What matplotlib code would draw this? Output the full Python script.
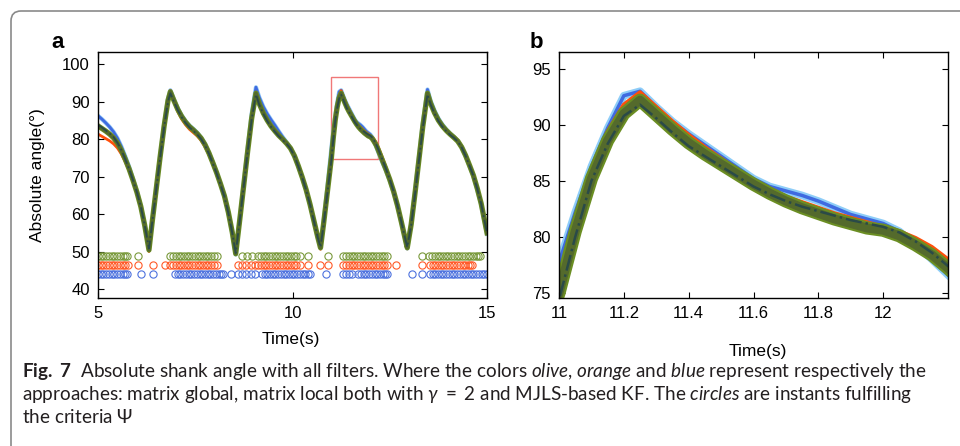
import numpy as np
import matplotlib.pyplot as plt
from matplotlib import font_manager
from matplotlib.patches import FancyBboxPatch, Rectangle
from matplotlib.transforms import IdentityTransform

# time base (s) shared by all filter outputs
t = [5.0, 5.1, 5.2, 5.3, 5.4, 5.5, 5.6, 5.7, 5.8, 5.9, 6.0, 6.1, 6.2, 6.31,
     6.4, 6.5, 6.6, 6.7, 6.8, 6.86,
     6.95, 7.05, 7.15, 7.25, 7.35, 7.45, 7.55, 7.65, 7.75, 7.85, 7.95, 8.05, 8.15, 8.25, 8.35, 8.45, 8.54,
     8.65, 8.75, 8.85, 8.95, 9.06,
     9.15, 9.25, 9.35, 9.45, 9.55, 9.65, 9.75, 9.85, 9.95, 10.05, 10.15, 10.25, 10.35, 10.45, 10.55, 10.65, 10.72,
     10.8, 10.9,
     11.0, 11.05, 11.1, 11.15, 11.2, 11.25, 11.3, 11.35, 11.4, 11.45, 11.5, 11.55, 11.6,
     11.65, 11.7, 11.75, 11.8, 11.85, 11.9, 11.95, 12.0, 12.05, 12.1, 12.15, 12.2,
     12.3, 12.4, 12.5, 12.6, 12.7, 12.8, 12.9, 12.95,
     13.05, 13.15, 13.25, 13.35, 13.47,
     13.55, 13.65, 13.75, 13.85, 13.95, 14.05, 14.15, 14.25, 14.35, 14.45, 14.55, 14.65, 14.75, 14.85, 14.95, 15.0]

# matrix global (olive)
olive = [83.5, 82.8, 82.1, 81.3, 80.3, 78.9, 77.0, 74.6, 72.0, 69.0, 65.8, 62.0, 57.0, 50.4,
         58.5, 67.0, 75.5, 83.5, 90.3, 92.6,
         90.3, 87.9, 86.0, 84.5, 83.3, 82.4, 81.4, 80.2, 78.5, 76.3, 73.7, 71.0, 68.0, 64.8, 60.5, 55.2, 49.4,
         59.0, 68.0, 77.0, 85.5, 92.2,
         89.3, 86.9, 85.0, 83.4, 82.1, 80.9, 79.9, 78.8, 77.5, 75.5, 72.8, 69.8, 66.5, 62.6, 58.2, 53.8, 51.0,
         57.5, 66.2,
         75.0, 80.5, 85.2, 88.6, 91.0, 92.2, 90.9, 89.6, 88.4, 87.4, 86.5, 85.6, 84.7,
         83.9, 83.2, 82.6, 82.1, 81.6, 81.2, 80.8, 80.6, 80.1, 79.3, 78.4, 77.2,
         74.6, 72.0, 69.2, 66.0, 62.2, 57.8, 53.2, 51.0,
         57.2, 65.6, 74.5, 83.4, 92.2,
         89.5, 87.0, 85.0, 83.5, 82.3, 81.3, 80.4, 79.4, 77.8, 75.6, 73.0, 70.3, 66.8, 62.8, 57.6, 55.0]

# matrix local (orange)
orange = [81.3, 80.7, 80.1, 79.5, 78.7, 77.6, 76.0, 73.9, 71.5, 68.7, 65.6, 61.9, 57.0, 50.0,
          58.3, 66.8, 75.3, 83.4, 90.5, 92.9,
          90.0, 87.3, 85.3, 83.8, 82.6, 81.7, 80.8, 79.6, 77.9, 75.8, 73.3, 70.7, 67.8, 64.7, 60.5, 55.3, 49.6,
          59.2, 68.2, 77.2, 85.8, 92.5,
          89.5, 87.1, 85.2, 83.6, 82.3, 81.1, 80.1, 79.0, 77.6, 75.6, 72.9, 69.9, 66.6, 62.7, 58.2, 53.6, 50.6,
          57.6, 66.6,
          76.3, 81.4, 86.0, 89.4, 91.8, 92.9, 91.6, 90.3, 89.1, 88.0, 87.0, 86.0, 85.1,
          84.3, 83.6, 83.1, 82.6, 82.1, 81.7, 81.3, 80.9, 80.5, 79.9, 79.1, 78.0,
          75.4, 72.6, 69.6, 66.3, 62.4, 57.9, 53.1, 50.7,
          57.3, 65.8, 74.8, 83.8, 92.5,
          89.7, 87.2, 85.2, 83.7, 82.5, 81.5, 80.7, 79.7, 78.1, 75.9, 73.3, 70.5, 67.0, 62.9, 57.7, 55.1]

# MJLS-based KF (blue)
blue = [86.2, 85.3, 84.3, 83.2, 81.9, 80.2, 78.0, 75.4, 72.6, 69.4, 66.0, 62.1, 57.0, 50.6,
        58.7, 67.2, 75.8, 83.9, 90.8, 93.0,
        90.6, 88.2, 86.3, 84.8, 83.6, 82.7, 81.7, 80.4, 78.7, 76.4, 73.8, 71.0, 68.0, 64.8, 60.4, 55.0, 49.2,
        59.3, 68.5, 77.8, 86.8, 93.8,
        91.0, 88.6, 86.7, 85.1, 83.6, 82.0, 80.5, 79.1, 77.6, 75.5, 72.7, 69.7, 66.4, 62.5, 58.1, 53.7, 50.9,
        58.0, 67.5,
        77.7, 82.2, 86.3, 89.7, 92.6, 93.0, 91.6, 90.3, 89.2, 88.2, 87.2, 86.2, 85.2,
        84.5, 84.1, 83.7, 83.2, 82.6, 82.0, 81.6, 81.2, 80.5, 79.3, 78.0, 76.6,
        74.0, 71.6, 68.9, 65.8, 62.1, 57.7, 53.1, 50.8,
        57.4, 66.0, 75.2, 84.3, 93.2,
        90.2, 87.6, 85.5, 83.9, 82.6, 81.5, 80.6, 79.5, 77.8, 75.5, 72.8, 70.1, 66.5, 62.5, 57.3, 54.7]

# reference (dark dash-dot)
ref = [83.8, 83.1, 82.3, 81.5, 80.5, 79.0, 77.1, 74.6, 72.0, 69.0, 65.8, 62.0, 57.0, 50.8,
       58.3, 66.8, 75.2, 83.2, 90.0, 92.2,
       90.0, 87.7, 85.8, 84.3, 83.1, 82.2, 81.2, 80.0, 78.3, 76.1, 73.5, 70.8, 67.8, 64.6, 60.3, 55.0, 49.6,
       58.8, 67.8, 76.8, 85.2, 91.9,
       89.0, 86.7, 84.8, 83.2, 81.9, 80.7, 79.7, 78.7, 77.4, 75.4, 72.7, 69.7, 66.4, 62.5, 58.1, 53.7, 51.2,
       57.2, 65.8,
       74.4, 80.0, 85.0, 88.3, 90.8, 91.8, 90.6, 89.3, 88.1, 87.2, 86.3, 85.4, 84.5,
       83.8, 83.2, 82.7, 82.3, 81.9, 81.5, 81.2, 80.9, 80.4, 79.6, 78.6, 77.4,
       74.8, 72.1, 69.2, 66.0, 62.2, 57.8, 53.3, 51.2,
       57.0, 65.3, 74.2, 83.0, 91.9,
       89.2, 86.8, 84.8, 83.3, 82.1, 81.1, 80.3, 79.3, 77.7, 75.5, 72.9, 70.2, 66.7, 62.7, 57.5, 54.9]

# instants fulfilling the criteria Psi
olive_psi = [5.00, 5.07, 5.14, 5.21, 5.28, 5.35, 5.42, 5.49, 5.56, 5.63, 5.70, 5.75,
             6.02,
             6.85, 6.93, 7.00, 7.07, 7.14, 7.21, 7.28, 7.35, 7.42, 7.49, 7.56, 7.63, 7.70, 7.77, 7.84, 7.91, 7.98, 8.05,
             8.69, 8.82, 8.97,
             9.12, 9.19, 9.26, 9.33, 9.40, 9.47, 9.54, 9.61, 9.68, 9.75, 9.82, 9.89, 9.96, 10.03, 10.10, 10.19,
             10.41, 10.92,
             11.31, 11.38, 11.45, 11.52, 11.59, 11.66, 11.73, 11.80, 11.87, 11.94, 12.01, 12.08, 12.15, 12.22, 12.29, 12.36, 12.42,
             13.32,
             13.52, 13.59, 13.66, 13.73, 13.80, 13.87, 13.94, 14.01, 14.08, 14.15, 14.22, 14.29, 14.36, 14.43, 14.50,
             14.57, 14.64, 14.71, 14.78, 14.82]
orange_psi = [5.00, 5.07, 5.14, 5.21, 5.28, 5.35, 5.42, 5.49, 5.56, 5.63, 5.70, 5.78,
              6.02, 6.42, 6.72,
              6.85, 6.93, 7.00, 7.07, 7.14, 7.21, 7.28, 7.35, 7.42, 7.49, 7.56, 7.63, 7.70, 7.77, 7.84, 7.91, 7.98, 8.05,
              8.60, 8.70, 8.80, 8.92, 9.03,
              9.12, 9.19, 9.26, 9.33, 9.40, 9.47, 9.54, 9.61, 9.68, 9.75, 9.82, 9.89, 9.96, 10.03, 10.10, 10.19,
              10.41, 10.71, 10.92,
              11.31, 11.38, 11.45, 11.52, 11.59, 11.66, 11.73, 11.80, 11.87, 11.94, 12.01, 12.08, 12.15, 12.22, 12.29, 12.36, 12.44,
              12.65, 13.34,
              13.53, 13.60, 13.67, 13.74, 13.81, 13.88, 13.95, 14.02, 14.09, 14.16, 14.23, 14.30, 14.37, 14.44, 14.51,
              14.56, 14.61]
blue_psi = [5.00, 5.07, 5.14, 5.21, 5.28, 5.35, 5.42, 5.49, 5.56, 5.63, 5.70, 5.75,
            6.10, 6.42,
            6.98, 7.05, 7.12, 7.19, 7.26, 7.33, 7.40, 7.47, 7.54, 7.61, 7.68, 7.75, 7.82, 7.89, 7.96, 8.03, 8.10, 8.16, 8.21,
            8.42,
            8.60, 8.70, 8.80, 8.92, 9.03,
            9.21, 9.28, 9.35, 9.42, 9.49, 9.56, 9.63, 9.70, 9.77, 9.84, 9.91, 9.98, 10.05, 10.12, 10.19, 10.26, 10.33,
            10.40, 10.45,
            10.85,
            11.31, 11.38, 11.45, 11.52,
            11.69, 11.76, 11.83, 11.90, 11.97, 12.04, 12.11, 12.18, 12.25, 12.32, 12.38, 12.42,
            13.08, 13.32,
            13.53, 13.60, 13.67, 13.74, 13.81, 13.88, 13.95, 14.02, 14.09, 14.16, 14.23, 14.30, 14.37, 14.44, 14.51,
            14.58, 14.65, 14.72, 14.79, 14.86, 14.93, 15.00]

# zoomed window shown in panel b
zoom_t = (11, 12.2)
zoom_y = (74.55, 96.5)

c_olive = '#6b8e23'
c_olive_dark = '#546a2c'
c_orange = '#ff4f0a'
c_blue = '#3f6ae0'
c_ref = '#2a4a48'

plt.rcParams['font.family'] = ['Liberation Sans', 'DejaVu Sans']

names = {f.name for f in font_manager.fontManager.ttflist}
cap_font = 'Liberation Sans'
for n in ['Lato', 'Roboto', 'Noto Sans']:
    if n in names:
        cap_font = n
        break
plt.rcParams['mathtext.fontset'] = 'custom'
plt.rcParams['mathtext.rm'] = cap_font
plt.rcParams['mathtext.it'] = cap_font + ':italic'
plt.rcParams['mathtext.bf'] = cap_font + ':bold'

fig = plt.figure(figsize=(9.6, 4.46), dpi=100)
ax1 = fig.add_axes([0.1021, 0.3318, 0.4052, 0.5516])
ax2 = fig.add_axes([0.5823, 0.3318, 0.4052, 0.5516])


def style(ax):
    ax.tick_params(direction='in', top=True, right=True, length=4, width=0.8,
                   labelsize=12, pad=6)
    for s in ax.spines.values():
        s.set_linewidth(1.0)


# panel a
ax1.plot(t, blue, color='#8ec5f5', lw=3)
ax1.plot(t, blue, color=c_blue, lw=2)
ax1.plot(t, orange, color=c_orange, lw=2)
ax1.plot(t, olive, color=c_olive, lw=3.8)
ax1.plot(t, olive, color=c_olive_dark, lw=2.6)
ax1.plot(t, ref, color=c_ref, lw=1.3, ls='-.')
ax1.plot(olive_psi, [48.9] * len(olive_psi), 'o', mfc='none', mec='#7a9a3c', ms=5.2, mew=0.8)
ax1.plot(orange_psi, [46.3] * len(orange_psi), 'o', mfc='none', mec='#ff5a28', ms=5.2, mew=0.8)
ax1.plot(blue_psi, [43.9] * len(blue_psi), 'o', mfc='none', mec='#4d72de', ms=5.2, mew=0.8)
ax1.add_patch(Rectangle((zoom_t[0], zoom_y[0]), zoom_t[1] - zoom_t[0], zoom_y[1] - zoom_y[0],
                        fill=False, ec='#f07878', lw=1))
ax1.set_xlim(5, 15)
ax1.set_ylim(37.6, 103.2)
ax1.set_xticks([5, 10, 15])
ax1.set_yticks([40, 50, 60, 70, 80, 90, 100])
style(ax1)
ax1.set_xlabel('Time(s)', fontsize=12.5)
ax1.xaxis.set_label_coords(0.496, -0.14)
ax1.set_ylabel('Absolute angle(°)', fontsize=12.5)
ax1.yaxis.set_label_coords(-0.136, 0.5)

# panel b
ax2.plot(t, blue, color='#8ecdf8', lw=5.5)
ax2.plot(t, blue, color=c_blue, lw=2.5)
ax2.plot(t, orange, color=c_orange, lw=3)
ax2.plot(t, olive, color=c_olive, lw=9.5)
ax2.plot(t, olive, color=c_olive_dark, lw=6.5)
ax2.plot(t, ref, color=c_ref, lw=1.8, ls='-.')
ax2.set_xlim(*zoom_t)
ax2.set_ylim(*zoom_y)
ax2.set_xticks([11, 11.2, 11.4, 11.6, 11.8, 12])
ax2.set_xticklabels(['11', '11.2', '11.4', '11.6', '11.8', '12'])
ax2.set_yticks([75, 80, 85, 90, 95])
style(ax2)
ax2.set_xlabel('Time(s)', fontsize=12.5)
ax2.xaxis.set_label_coords(0.51, -0.185)

fig.text(58 / 960, 1 - 42 / 446, 'a', fontsize=16, fontweight='bold', ha='center', va='center')
fig.text(536 / 960, 1 - 42 / 446, 'b', fontsize=16, fontweight='bold', ha='center', va='center')

# caption
cap = [r'$\mathbf{Fig.\ 7}$  Absolute shank angle with all filters. Where the colors $\mathit{olive}$, '
       r'$\mathit{orange}$ and $\mathit{blue}$ represent respectively the',
       r'approaches: matrix global, matrix local both with $\gamma\ =\ 2$ and MJLS-based KF. The '
       r'$\mathit{circles}$ are instants fulfilling',
       r'the criteria $\Psi$']
cap_texts = []
for i, line in enumerate(cap):
    cap_texts.append(fig.text(22 / 960, 1 - (377 + 23 * i) / 446, line, family=cap_font,
                              fontsize=10, color='#231f20', va='baseline'))

# fit the caption to the frame width (line ends at 948 and 893 px in the original)
fig.canvas.draw()
w1 = cap_texts[0].get_window_extent().width
w2 = cap_texts[1].get_window_extent().width
size = 10 * (926 / w1 + 871 / w2) / 2
for tx in cap_texts:
    tx.set_fontsize(size)

# frame around the figure
fig.add_artist(FancyBboxPatch((11, -40), 1000, 475, boxstyle='round,pad=0,rounding_size=10',
                              transform=IdentityTransform(), fill=False, ec='#8a8a8a', lw=1.2))

fig.savefig('out.png', dpi=100)
